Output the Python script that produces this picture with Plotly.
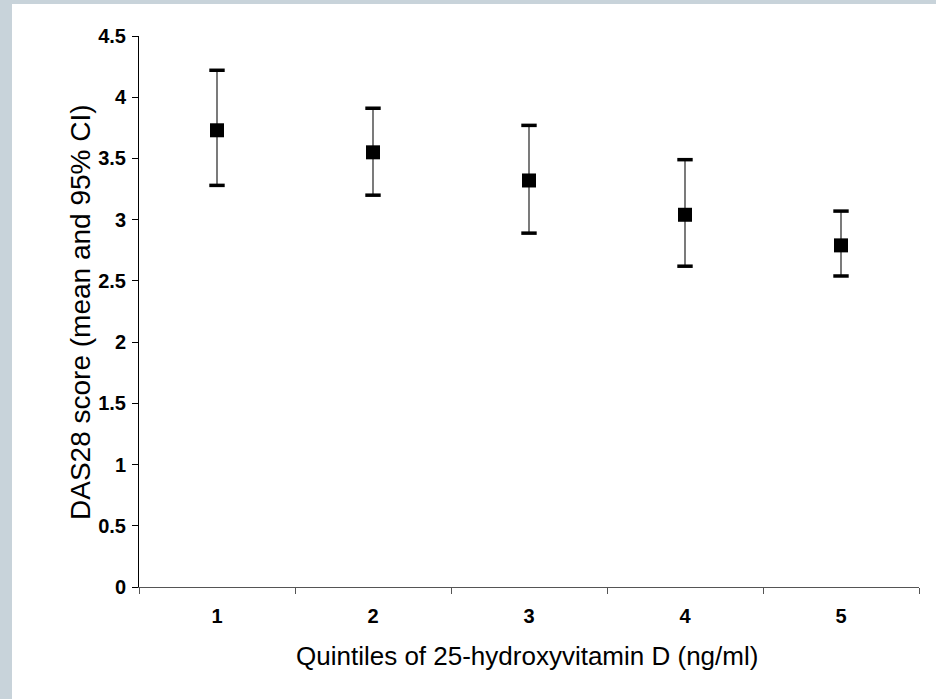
import plotly.graph_objects as go

quintiles = ["1", "2", "3", "4", "5"]
mean_das28 = [3.73, 3.55, 3.32, 3.04, 2.79]
ci_lower = [3.28, 3.20, 2.89, 2.62, 2.54]
ci_upper = [4.22, 3.91, 3.77, 3.49, 3.07]
y_ticks = [0, 0.5, 1, 1.5, 2, 2.5, 3, 3.5, 4, 4.5]
y_ticktext = ["0", "0.5", "1", "1.5", "2", "2.5", "3", "3.5", "4", "4.5"]

err_plus = [u - m for u, m in zip(ci_upper, mean_das28)]
err_minus = [m - l for m, l in zip(mean_das28, ci_lower)]

W, H = 936, 699
L, R, T, B = 139, 17, 36, 112
pw, ph = W - L - R, H - T - B


def px_x(p):
    return (p - L) / pw


def px_y(p):
    return (H - B - p) / ph


fig = go.Figure()
fig.add_trace(go.Scatter(
    x=quintiles, y=mean_das28, mode="markers",
    marker=dict(symbol="square", size=14, color="black"),
    error_y=dict(type="data", array=err_plus, arrayminus=err_minus,
                 color="#333333", thickness=1.3, width=0),
    showlegend=False, hoverinfo="skip"))
fig.add_trace(go.Scatter(
    x=quintiles + quintiles, y=ci_upper + ci_lower, mode="markers",
    marker=dict(symbol="line-ew", size=11, line=dict(width=3.5, color="black")),
    showlegend=False, hoverinfo="skip"))

border = "#c8d3da"
fig.add_shape(type="rect", xref="paper", yref="paper",
              x0=px_x(0), x1=px_x(12), y0=px_y(H), y1=px_y(0),
              fillcolor=border, line_width=0, layer="below")
fig.add_shape(type="rect", xref="paper", yref="paper",
              x0=px_x(0), x1=px_x(W), y0=px_y(4), y1=px_y(0),
              fillcolor=border, line_width=0, layer="below")

fam = "Liberation Sans, Arial"
fig.add_annotation(text="DAS28 score (mean and 95% CI)", xref="paper", yref="paper",
                   x=px_x(80), y=px_y(312), textangle=-90, showarrow=False,
                   xanchor="center", yanchor="middle",
                   font=dict(family=fam, size=28, color="black"))
fig.add_annotation(text="Quintiles of 25-hydroxyvitamin D (ng/ml)", xref="paper", yref="paper",
                   x=px_x(527), y=px_y(656), showarrow=False,
                   xanchor="center", yanchor="middle",
                   font=dict(family=fam, size=26, color="black"))

fig.update_layout(
    width=W, height=H,
    margin=dict(l=L, r=R, t=T, b=B),
    paper_bgcolor="white", plot_bgcolor="white",
    xaxis=dict(
        type="category", range=[-0.5, 4.5], tickson="boundaries",
        showline=True, linecolor="#555555", linewidth=1,
        ticks="outside", ticklen=6, tickcolor="#555555",
        showgrid=False, zeroline=False,
        tickfont=dict(family=fam, size=20, color="black", weight="bold"),
        ticklabelstandoff=11),
    yaxis=dict(
        range=[0, 4.5], tickvals=y_ticks, ticktext=y_ticktext,
        showline=True, linecolor="black", linewidth=1,
        ticks="outside", ticklen=6, tickcolor="black",
        showgrid=False, zeroline=False,
        tickfont=dict(family=fam, size=20, color="black", weight="bold"),
        ticklabelstandoff=2),
)

fig.write_html("out.html", config={"displayModeBar": False},
               post_script="document.body.style.margin='0';")
